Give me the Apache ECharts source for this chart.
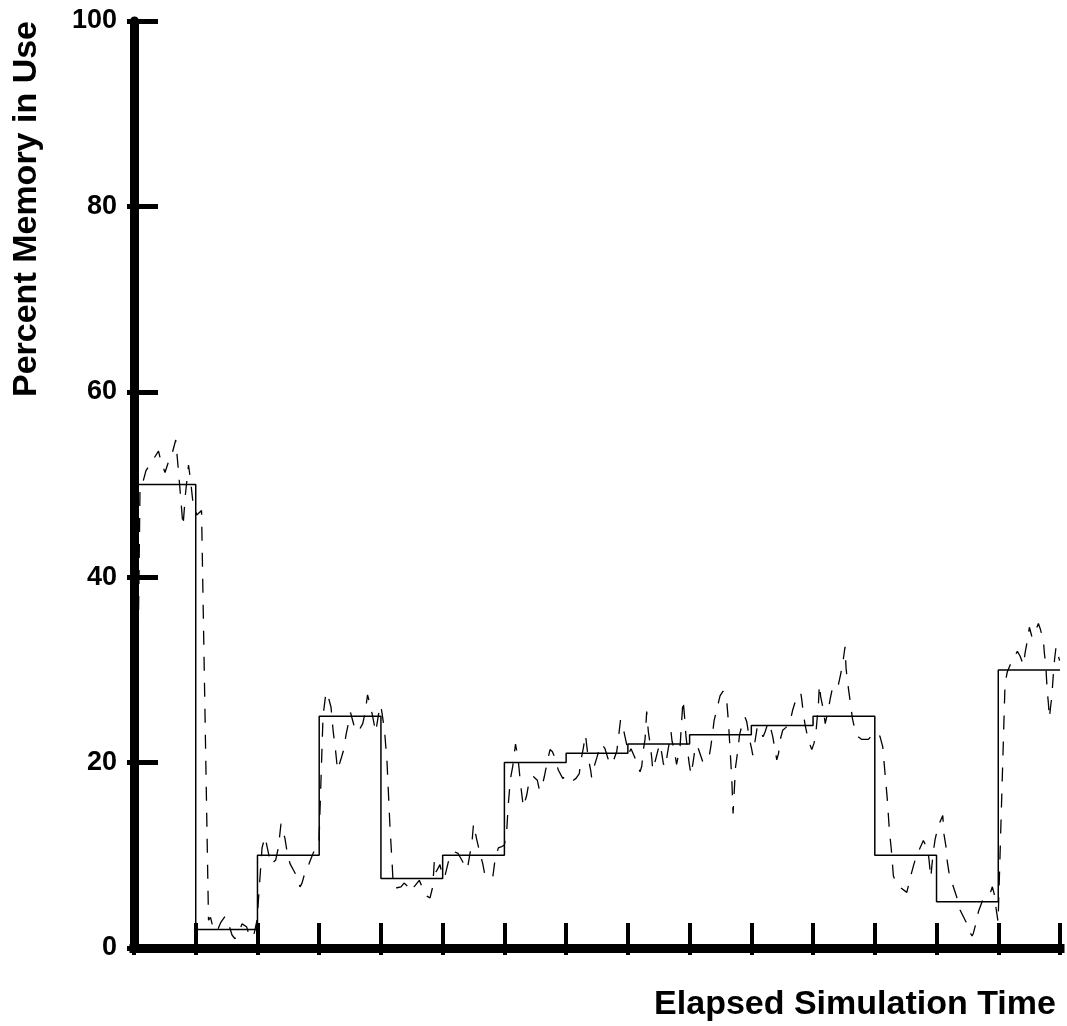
<!DOCTYPE html>
<html>
<head>
<meta charset="utf-8">
<title>Percent Memory in Use</title>
<script src="https://cdn.jsdelivr.net/npm/echarts@6/dist/echarts.min.js"></script>
<style>
  html, body { margin: 0; padding: 0; background: #ffffff; }
  #chart { width: 1067px; height: 1026px; }
</style>
</head>
<body>
<div id="chart"></div>
<script>
// Allocated memory level for each phase of the run (one value per time unit)
const phaseLevels = [50, 2, 10, 25, 7.5, 10, 20, 21, 22, 23, 24, 25, 10, 5, 30];

// Measured memory use, sampled through the run
const sampleTimes = [
  0, 0.081, 0.097, 0.146, 0.194, 0.292, 0.397, 0.437, 0.502, 0.551, 0.624, 0.676, 0.713, 0.745, 0.794, 0.834, 0.883, 0.915, 0.956,
  1.016, 1.094, 1.207, 1.239, 1.288, 1.345, 1.409, 1.474, 1.523, 1.588, 1.636, 1.685, 1.750, 1.823, 1.879, 1.944, 1.993,
  2.074, 2.122, 2.163, 2.219, 2.296, 2.338, 2.381, 2.446, 2.479, 2.527, 2.576, 2.624, 2.689, 2.722, 2.759, 2.835, 2.900, 2.997,
  3.062, 3.110, 3.159, 3.191, 3.229, 3.256, 3.297, 3.349, 3.402, 3.434, 3.472, 3.507, 3.564, 3.629, 3.705, 3.742, 3.783, 3.835, 3.877, 3.915, 3.945, 3.969, 3.997,
  4.018, 4.058, 4.099, 4.147, 4.184, 4.201, 4.261, 4.325, 4.374, 4.427, 4.499, 4.536, 4.585, 4.622, 4.698, 4.747, 4.795, 4.839, 4.865, 4.892, 4.917, 4.957,
  5.001, 5.038, 5.092, 5.184, 5.249, 5.325, 5.399, 5.443, 5.476, 5.500, 5.552, 5.605, 5.649, 5.686, 5.811, 5.848, 5.902, 5.945, 5.999,
  6.038, 6.064, 6.099, 6.135, 6.180, 6.216, 6.237, 6.258, 6.307, 6.362, 6.404, 6.469, 6.533, 6.569, 6.605, 6.647, 6.695, 6.739, 6.776, 6.820, 6.873, 6.945,
  7.009, 7.100, 7.160, 7.213, 7.235, 7.277, 7.313, 7.358, 7.397, 7.413, 7.441, 7.505, 7.561, 7.598, 7.630, 7.684, 7.719, 7.755, 7.820, 7.846, 7.881, 7.938, 7.982,
  8.008, 8.051, 8.116, 8.170, 8.197, 8.225, 8.251, 8.278, 8.305, 8.332, 8.359, 8.387, 8.403, 8.424, 8.456, 8.494, 8.521, 8.549, 8.575, 8.597, 8.618, 8.639, 8.667,
  8.699, 8.716, 8.748, 8.789, 8.821, 8.845, 8.867, 8.894, 8.918, 8.942, 8.970, 8.991,
  9.023, 9.056, 9.088, 9.116, 9.142, 9.218, 9.315, 9.343, 9.375, 9.396, 9.450, 9.493, 9.542, 9.602, 9.628, 9.655, 9.683, 9.704, 9.744, 9.785, 9.809, 9.861, 9.898, 9.926, 9.968,
  10.004, 10.023, 10.055, 10.097, 10.152, 10.190, 10.222, 10.276, 10.303, 10.347, 10.384, 10.412, 10.441, 10.465, 10.509, 10.562, 10.627, 10.671, 10.708, 10.762, 10.801, 10.817, 10.843, 10.870, 10.924, 10.979,
  11.016, 11.048, 11.069, 11.086, 11.102, 11.124, 11.167, 11.197, 11.248, 11.275, 11.319, 11.364, 11.410, 11.449, 11.491, 11.518, 11.534, 11.555, 11.583, 11.610, 11.636, 11.680, 11.729, 11.789, 11.896, 11.951,
  12.004, 12.053, 12.085, 12.129, 12.166, 12.203, 12.236, 12.268, 12.301, 12.344, 12.398, 12.518, 12.547, 12.583, 12.636, 12.668, 12.706, 12.787, 12.806, 12.830, 12.874, 12.907, 12.928, 12.949, 12.976,
  13.030, 13.101, 13.122, 13.154, 13.175, 13.203, 13.263, 13.327, 13.349, 13.381, 13.478, 13.527, 13.576, 13.597, 13.640, 13.678, 13.749, 13.802, 13.879, 13.904, 13.932, 13.964, 13.997,
  14.110, 14.147, 14.191, 14.235, 14.309, 14.353, 14.407, 14.434, 14.478, 14.504, 14.548, 14.596, 14.650, 14.677, 14.705, 14.731, 14.747, 14.770, 14.783, 14.795, 14.812, 14.828, 14.847, 14.867, 14.893, 14.913, 14.936, 14.993
];
const sampleUsage = [
  0, 40, 49.5, 50.3, 51.5, 52.5, 53.6, 52.5, 51.3, 52.3, 53.5, 54.8, 52, 49.5, 45.5, 49, 52.1, 50.5, 48,
  46.7, 47.2, 3.0, 3.3, 2.0, 1.8, 2.8, 3.4, 2.8, 1.4, 1.0, 1.5, 2.6, 2.3, 1.1, 1.5, 3.0,
  10.8, 12.0, 10.7, 9.0, 9.5, 10.8, 13.4, 11.8, 10.4, 9.1, 8.5, 7.9, 6.6, 7.0, 7.9, 9.1, 10.2, 11.5,
  25.0, 27.6, 26.8, 26.0, 23.2, 21.9, 19.2, 20.3, 21.5, 23.0, 24.2, 25.4, 24.0, 23.3, 24.2, 25.3, 27.3, 26.0, 24.6, 23.3, 23.2, 25.5, 26.2,
  25.3, 23.5, 20.0, 13.0, 8.8, 6.5, 6.5, 6.6, 7.0, 6.7, 6.1, 6.6, 7.0, 7.3, 6.1, 5.6, 5.4, 6.6, 9.4, 8.2, 8.0, 9.0,
  7.6, 7.8, 9.3, 10.4, 10.2, 9.3, 8.5, 10.2, 11.5, 13.4, 11.7, 10.2, 9.1, 7.8, 7.6, 9.5, 10.8, 10.9, 11.1,
  12.7, 15.6, 18.3, 19.6, 22.0, 20.7, 19.4, 17.9, 15.2, 16.5, 18.1, 18.5, 18.1, 17.0, 17.3, 18.5, 20.1, 21.4, 21.2, 20.5, 19.2, 18.3,
  18.6, 18.0, 18.3, 18.8, 20.1, 21.5, 23.0, 20.5, 19.2, 18.4, 19.3, 20.7, 22.0, 21.8, 21.5, 20.3, 19.8, 20.0, 21.2, 22.6, 24.6, 23.3, 21.9,
  20.9, 21.5, 20.5, 19.5, 19.0, 19.6, 21.4, 22.5, 25.5, 23.3, 22.1, 20.5, 19.2, 19.4, 20.5, 21.5, 22.0, 21.0, 19.9, 19.5, 19.9, 20.9, 22.0,
  23.3, 22.3, 21.5, 19.8, 19.6, 21.7, 24.0, 26.8, 25.0, 22.8, 21.2, 20.0,
  18.7, 20.0, 21.5, 21.9, 21.5, 20.0, 20.6, 21.7, 23.3, 24.5, 26.0, 27.2, 27.7, 26.6, 24.5, 21.5, 18.3, 14.5, 19.5, 21.5, 23.0, 24.4, 24.9, 24.4, 22.6,
  21.5, 20.8, 22.1, 23.9, 23.3, 22.8, 23.3, 24.4, 24.0, 22.8, 21.4, 20.3, 21.0, 22.4, 23.5, 23.8, 24.4, 25.7, 26.5, 27.3, 27.5, 26.8, 25.3, 24.1, 22.4, 21.4,
  22.1, 23.3, 25.0, 26.2, 28.4, 27.1, 25.7, 24.2, 25.7, 26.8, 28.2, 28.0, 28.4, 29.6, 31.2, 32.5, 30.2, 28.9, 27.5, 26.2, 24.8, 23.5, 22.8, 22.5, 22.5, 22.9,
  23.0, 23.2, 22.8, 21.7, 18.8, 16.0, 12.7, 10.6, 7.8, 7.0, 6.6, 6.0, 6.8, 7.8, 9.1, 9.8, 10.4, 11.6, 11.7, 11.0, 9.8, 7.6, 9.1, 10.4, 11.7,
  13.2, 14.3, 12.2, 10.9, 9.3, 8.1, 6.8, 5.5, 4.8, 4.1, 2.8, 1.8, 1.3, 1.6, 2.7, 3.9, 5.2, 5.8, 6.1, 6.6, 5.9, 4.3, 2.8,
  28.6, 29.8, 30.5, 31.1, 32.0, 31.5, 30.5, 31.8, 33.4, 34.6, 33.5, 34.1, 35.0, 34.5, 34.3, 33.2, 31.8, 30.5, 28.9, 27.6, 26.4, 24.8, 26.0, 27.1, 29.6, 31.2, 32.5, 31.0
];

// Value axis ticks
const usageTicks = [0, 20, 40, 60, 80, 100];
const timeSpan = phaseLevels.length;

const yTitle = 'Percent Memory in Use';
const xTitle = 'Elapsed Simulation Time';

const boldFont = '"Liberation Sans", Arial, Helvetica, sans-serif';

// Step series: each phase level holds until the next time unit
const stepData = phaseLevels.map((v, i) => [i, v]);
stepData.push([timeSpan, phaseLevels[phaseLevels.length - 1]]);

const sampleData = sampleTimes.map((t, i) => [t, sampleUsage[i]]);

const chart = echarts.init(document.getElementById('chart'), null, { renderer: 'canvas' });

const baseX = {
  type: 'value', min: 0, max: timeSpan, interval: 1,
  gridIndex: 0, position: 'bottom', offset: 0,
  splitLine: { show: false },
  axisLabel: { show: false }
};
const baseY = {
  type: 'value',
  min: usageTicks[0], max: usageTicks[usageTicks.length - 1],
  interval: usageTicks[1] - usageTicks[0],
  gridIndex: 0, position: 'left', offset: 0,
  splitLine: { show: false }
};

chart.setOption({
  animation: false,
  backgroundColor: '#ffffff',
  grid: { left: 134, right: 7, top: 21, bottom: 78, containLabel: false, outerBoundsMode: 'none' },
  xAxis: [
    Object.assign({}, baseX, {
      axisLine: { show: true, lineStyle: { color: '#000', width: 9, cap: 'square' } },
      axisTick: { show: true, inside: true, length: 25, lineStyle: { color: '#000', width: 4 } }
    }),
    Object.assign({}, baseX, {
      axisLine: { show: false },
      axisTick: { show: true, inside: false, length: 7, lineStyle: { color: '#000', width: 4 } }
    })
  ],
  yAxis: [
    Object.assign({}, baseY, {
      axisLine: { show: true, lineStyle: { color: '#000', width: 9 } },
      axisTick: { show: true, inside: true, length: 24, lineStyle: { color: '#000', width: 5 } },
      axisLabel: {
        show: true, margin: 17, color: '#000',
        fontFamily: boldFont, fontWeight: 'bold', fontSize: 27
      }
    }),
    Object.assign({}, baseY, {
      axisLine: { show: false },
      axisLabel: { show: false },
      axisTick: { show: true, inside: false, length: 7, lineStyle: { color: '#000', width: 5 } }
    })
  ],
  series: [
    {
      name: 'Allocated',
      type: 'line',
      step: 'end',
      xAxisIndex: 0, yAxisIndex: 0,
      data: stepData,
      showSymbol: false,
      lineStyle: { color: '#000', width: 1.5 },
      z: 3
    },
    {
      name: 'Measured',
      type: 'line',
      xAxisIndex: 0, yAxisIndex: 0,
      data: sampleData,
      showSymbol: false,
      lineStyle: { color: '#000', width: 1.3, type: [14, 12] },
      z: 4
    }
  ],
  graphic: [
    {
      type: 'text',
      x: 27, y: 209,
      rotation: Math.PI / 2,
      style: {
        text: yTitle,
        font: 'bold 34px ' + boldFont,
        fill: '#000',
        textAlign: 'center',
        textVerticalAlign: 'middle'
      }
    },
    {
      type: 'text',
      x: 855, y: 1005,
      style: {
        text: xTitle,
        font: 'bold 34px ' + boldFont,
        fill: '#000',
        textAlign: 'center',
        textVerticalAlign: 'middle'
      }
    }
  ]
});
</script>
</body>
</html>
